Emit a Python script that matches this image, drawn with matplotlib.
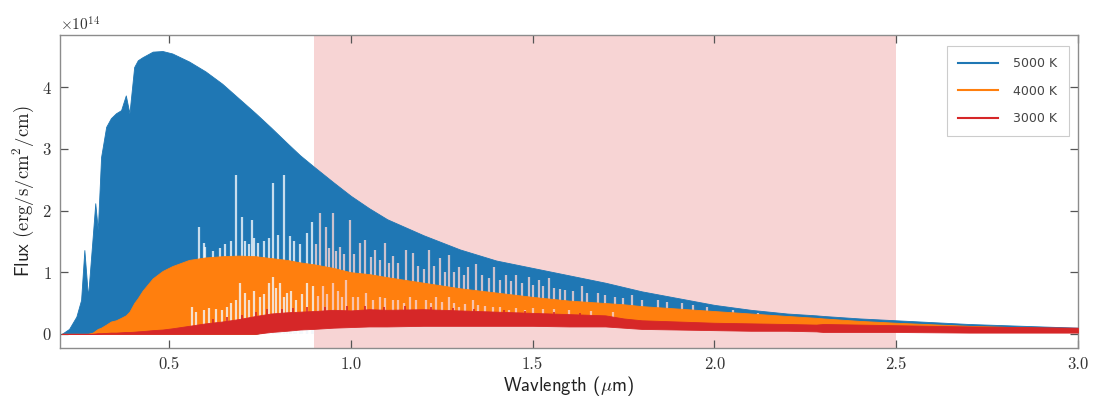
import numpy as np
import matplotlib
matplotlib.use("Agg")
import matplotlib.pyplot as plt
from matplotlib.ticker import ScalarFormatter, FormatStrFormatter
import matplotlib.colors as mcolors

plt.rcParams['font.family'] = ['cmr10', 'DejaVu Sans']
plt.rcParams['mathtext.fontset'] = 'cm'
plt.rcParams['axes.formatter.use_mathtext'] = True

# ---------------- data (flux in units of 1e14 erg/s/cm^2/cm) ----------------
labels = ["5000 K", "4000 K", "3000 K"]
band_lo_um, band_hi_um = 0.9, 2.5

wave = [0.205, 0.225, 0.245, 0.258, 0.267, 0.277, 0.29, 0.297, 0.304, 0.313,
        0.327, 0.34, 0.354, 0.368, 0.381, 0.391, 0.404, 0.414, 0.427, 0.455,
        0.482, 0.509, 0.555, 0.6, 0.646, 0.692, 0.738, 0.78, 0.824, 0.86,
        0.897, 0.952, 1.0, 1.05, 1.1, 1.2, 1.3, 1.4, 1.5, 1.6,
        1.7, 1.75, 1.8, 1.9, 2.0, 2.1, 2.2, 2.28, 2.3, 2.4,
        2.5, 2.7, 3.0]

top_5000 = [0.0, 0.08, 0.28, 0.55, 1.36, 0.6, 1.58, 2.12, 1.69, 2.87,
            3.36, 3.5, 3.58, 3.63, 3.87, 3.58, 4.33, 4.44, 4.49, 4.58,
            4.59, 4.55, 4.42, 4.26, 4.06, 3.82, 3.58, 3.35, 3.1, 2.9,
            2.72, 2.46, 2.24, 2.04, 1.86, 1.6, 1.37, 1.19, 1.07, 0.95,
            0.83, 0.76, 0.69, 0.58, 0.47, 0.39, 0.33, 0.3, 0.29, 0.25,
            0.22, 0.16, 0.1]
low_5000 = [0.0, 0.0, 0.0, 0.0, 0.0, 0.0, 0.0, 0.0, 0.0, 0.0,
            0.0, 0.0, 0.0, 0.0, 0.0, 0.0, 0.0, 0.0, 0.0, 0.0,
            0.0, 0.0, 0.0, 0.0, 0.0, 0.0, 0.0, 0.05, 0.07, 0.09,
            0.11, 0.13, 0.14, 0.15, 0.15, 0.16, 0.16, 0.16, 0.16, 0.15,
            0.14, 0.12, 0.1, 0.09, 0.08, 0.08, 0.07, 0.07, 0.07, 0.06,
            0.06, 0.05, 0.04]

top_4000 = [0.0, 0.0, 0.0, 0.0, 0.0, 0.0, 0.02, 0.05, 0.08, 0.1,
            0.15, 0.2, 0.22, 0.26, 0.3, 0.36, 0.5, 0.58, 0.7, 0.9,
            1.02, 1.1, 1.2, 1.24, 1.26, 1.27, 1.26, 1.23, 1.2, 1.16,
            1.13, 1.07, 1.0, 0.97, 0.92, 0.83, 0.74, 0.67, 0.6, 0.54,
            0.5, 0.48, 0.45, 0.41, 0.37, 0.33, 0.29, 0.26, 0.25, 0.21,
            0.18, 0.13, 0.08]
low_4000 = [0.0, 0.0, 0.0, 0.0, 0.0, 0.0, 0.0, 0.0, 0.0, 0.0,
            0.0, 0.0, 0.0, 0.0, 0.0, 0.0, 0.0, 0.0, 0.0, 0.0,
            0.0, 0.0, 0.0, 0.0, 0.0, 0.0, 0.0, 0.05, 0.07, 0.09,
            0.11, 0.13, 0.14, 0.15, 0.15, 0.16, 0.16, 0.16, 0.16, 0.15,
            0.14, 0.12, 0.1, 0.09, 0.08, 0.08, 0.07, 0.07, 0.07, 0.06,
            0.06, 0.05, 0.04]

top_3000 = [0.0, 0.0, 0.0, 0.0, 0.0, 0.0, 0.0, 0.005, 0.01, 0.01,
            0.015, 0.02, 0.02, 0.025, 0.03, 0.03, 0.035, 0.04, 0.045, 0.06,
            0.07, 0.09, 0.13, 0.17, 0.2, 0.24, 0.29, 0.33, 0.35, 0.36,
            0.37, 0.39, 0.38, 0.4, 0.39, 0.4, 0.38, 0.36, 0.34, 0.32,
            0.3, 0.25, 0.22, 0.2, 0.18, 0.17, 0.16, 0.15, 0.16, 0.15,
            0.14, 0.12, 0.1]
low_3000 = [0.0, 0.0, 0.0, 0.0, 0.0, 0.0, 0.0, 0.0, 0.0, 0.0,
            0.0, 0.0, 0.0, 0.0, 0.0, 0.0, 0.0, 0.0, 0.0, 0.0,
            0.0, 0.0, 0.0, 0.0, 0.0, 0.0, 0.0, 0.03, 0.05, 0.07,
            0.08, 0.1, 0.11, 0.12, 0.12, 0.13, 0.13, 0.13, 0.13, 0.12,
            0.12, 0.1, 0.08, 0.07, 0.06, 0.05, 0.05, 0.04, 0.03, 0.03,
            0.03, 0.02, 0.02]

# windows between absorption lines (where the spectrum stays high)
gap_wave_5000 = [0.582, 0.595, 0.600, 0.62, 0.64, 0.655, 0.67, 0.683, 0.701, 0.71,
                 0.72, 0.728, 0.735, 0.746, 0.76, 0.775, 0.787, 0.8, 0.815, 0.833,
                 0.845, 0.86, 0.879, 0.892, 0.905, 0.915, 0.933, 0.94, 0.952, 0.96,
                 0.970, 0.98, 0.997, 1.01, 1.025, 1.038, 1.055, 1.066, 1.08, 1.093,
                 1.105, 1.116, 1.13, 1.152, 1.171, 1.185, 1.2, 1.216, 1.23, 1.244,
                 1.26, 1.271, 1.285, 1.298, 1.31, 1.321, 1.344, 1.36, 1.38, 1.394,
                 1.41, 1.426, 1.44, 1.454, 1.47, 1.49, 1.5, 1.517, 1.53, 1.545,
                 1.56, 1.575, 1.59, 1.61, 1.636, 1.65, 1.681, 1.7, 1.727, 1.75,
                 1.773, 1.8, 1.846, 1.87, 1.91, 1.94, 1.98, 2.05, 2.12]
gap_top_5000 = [1.74, 1.47, 1.41, 1.35, 1.4, 1.45, 1.5, 2.58, 1.90, 1.5,
                1.45, 1.85, 1.55, 1.47, 1.5, 1.55, 2.45, 1.6, 2.58, 1.58,
                1.5, 1.45, 1.63, 1.82, 1.45, 1.96, 1.74, 1.4, 1.96, 1.35,
                1.41, 1.3, 1.85, 1.3, 1.47, 1.52, 1.25, 1.36, 1.2, 1.47,
                1.15, 1.27, 1.15, 1.36, 1.31, 1.1, 1.05, 1.36, 1.1, 1.23,
                1.0, 1.28, 1.0, 1.09, 0.95, 1.09, 1.14, 0.95, 0.9, 1.09,
                0.88, 0.96, 0.85, 0.96, 0.82, 0.93, 0.8, 0.88, 0.78, 0.90,
                0.75, 0.72, 0.71, 0.7, 0.77, 0.67, 0.66, 0.63, 0.60, 0.58,
                0.63, 0.55, 0.55, 0.52, 0.50, 0.47, 0.44, 0.38, 0.34]

gap_wave_4000 = [0.564, 0.575, 0.596, 0.61, 0.63, 0.645, 0.66, 0.67, 0.683, 0.696,
                 0.71, 0.72, 0.735, 0.751, 0.76, 0.774, 0.787, 0.795, 0.806, 0.815,
                 0.824, 0.835, 0.85, 0.865, 0.879, 0.897, 0.91, 0.924, 0.935, 0.952,
                 0.965, 0.975, 0.988, 1.006, 1.02, 1.043, 1.06, 1.08, 1.095, 1.116,
                 1.13, 1.145, 1.162, 1.18, 1.207, 1.22, 1.235, 1.25, 1.271, 1.285,
                 1.298, 1.315, 1.335, 1.35, 1.37, 1.39, 1.41, 1.435, 1.455, 1.48,
                 1.5, 1.53, 1.56, 1.6, 1.66, 1.72]
gap_top_4000 = [0.44, 0.35, 0.39, 0.42, 0.40, 0.38, 0.44, 0.5, 0.55, 0.82,
                0.66, 0.55, 0.7, 0.60, 0.65, 0.82, 0.93, 0.75, 0.82, 0.6,
                0.66, 0.7, 0.55, 0.65, 0.82, 0.77, 0.62, 0.77, 0.65, 0.82,
                0.7, 0.6, 0.875, 0.60, 0.6, 0.66, 0.55, 0.60, 0.58, 0.55,
                0.55, 0.5, 0.60, 0.55, 0.55, 0.5, 0.60, 0.52, 0.60, 0.5,
                0.44, 0.48, 0.55, 0.47, 0.45, 0.44, 0.44, 0.39, 0.42, 0.39,
                0.42, 0.40, 0.4, 0.38, 0.37, 0.36]

# narrow emission-like peaks poking above the 3000 K band
peak_wave_3000 = [0.62, 0.66, 0.7, 0.74, 0.77, 0.81, 0.84, 0.88, 0.93, 0.99,
                  1.04, 1.09, 1.15, 1.22, 1.28, 1.34, 1.42, 1.48, 1.56, 1.63]
peak_top_3000 = [0.24, 0.28, 0.31, 0.36, 0.4, 0.41, 0.42, 0.43, 0.44, 0.45,
                 0.45, 0.44, 0.45, 0.44, 0.42, 0.41, 0.39, 0.37, 0.36, 0.34]

# ---------------- figure ----------------
scale = 1e14
colors = ['#1f77b4', '#ff7f0e', '#d62728']
shade = mcolors.to_hex(0.2 * np.array(mcolors.to_rgb('#d62728')) + 0.8)

fig = plt.figure(figsize=(11.01, 4.05), dpi=100)
ax = fig.add_axes([0.0545, 0.1407, 0.9245, 0.7729])

ax.axvspan(band_lo_um, band_hi_um, color=shade, lw=0, zorder=0.5)

w = np.array(wave)
series = [(top_5000, low_5000), (top_4000, low_4000), (top_3000, low_3000)]
gaps = [(gap_wave_5000, gap_top_5000), (gap_wave_4000, gap_top_4000), None]

for i, ((top, low), col, lab) in enumerate(zip(series, colors, labels)):
    z = 2 + i
    ax.fill_between(w, np.array(low) * scale, np.array(top) * scale,
                    color=col, lw=0.6, edgecolor=col, zorder=z)
    ax.plot([], [], color=col, lw=1.5, label=lab)
    if gaps[i] is not None:
        gw = np.array(gaps[i][0])
        gt = np.array(gaps[i][1]) * scale
        gc = [shade if band_lo_um <= x <= band_hi_um else '#f4f8fc' for x in gw]
        ax.vlines(gw, 0, gt, colors=gc, lw=1.6, alpha=0.8, zorder=z + 0.5)

ax.vlines(peak_wave_3000, 0.15 * scale, np.array(peak_top_3000) * scale,
          colors=colors[2], lw=1.2, zorder=4.2)

ax.set_xlim(0.2, 3.0)
ax.set_ylim(-0.23 * scale, 4.85 * scale)
ax.set_xticks([0.5, 1.0, 1.5, 2.0, 2.5, 3.0])
ax.xaxis.set_major_formatter(FormatStrFormatter('%.1f'))
ax.set_yticks(np.arange(0, 5) * scale)
fmt = ScalarFormatter(useMathText=True)
fmt.set_powerlimits((0, 0))
ax.yaxis.set_major_formatter(fmt)

for s in ax.spines.values():
    s.set_color('#8c8c8c')
    s.set_linewidth(1.0)
ax.tick_params(direction='in', top=True, right=True, length=6, width=0.9,
               color='#555555', labelsize=12, labelcolor='#333333', pad=6)
ax.yaxis.get_offset_text().set_fontsize(11)
ax.yaxis.get_offset_text().set_color('#333333')

ax.set_xlabel(r'Wavlength ($\mu$m)', fontsize=13.5, family='cmss10', color='#222222', labelpad=2)
ax.set_ylabel(r'Flux $(\mathrm{erg/s/cm^2/cm})$', fontsize=13.5, family='cmss10', color='#222222', labelpad=4)

leg = ax.legend(loc='upper right', prop={'family': 'DejaVu Sans', 'size': 9},
                frameon=True, fancybox=False, edgecolor='#cccccc', framealpha=1,
                handlelength=3.2, handletextpad=1.2, labelspacing=1.15,
                borderpad=0.9, bbox_to_anchor=(0.997, 0.985))
leg.get_frame().set_linewidth(0.8)
for t in leg.get_texts():
    t.set_color('#444444')

fig.savefig('out.png', dpi=100)
